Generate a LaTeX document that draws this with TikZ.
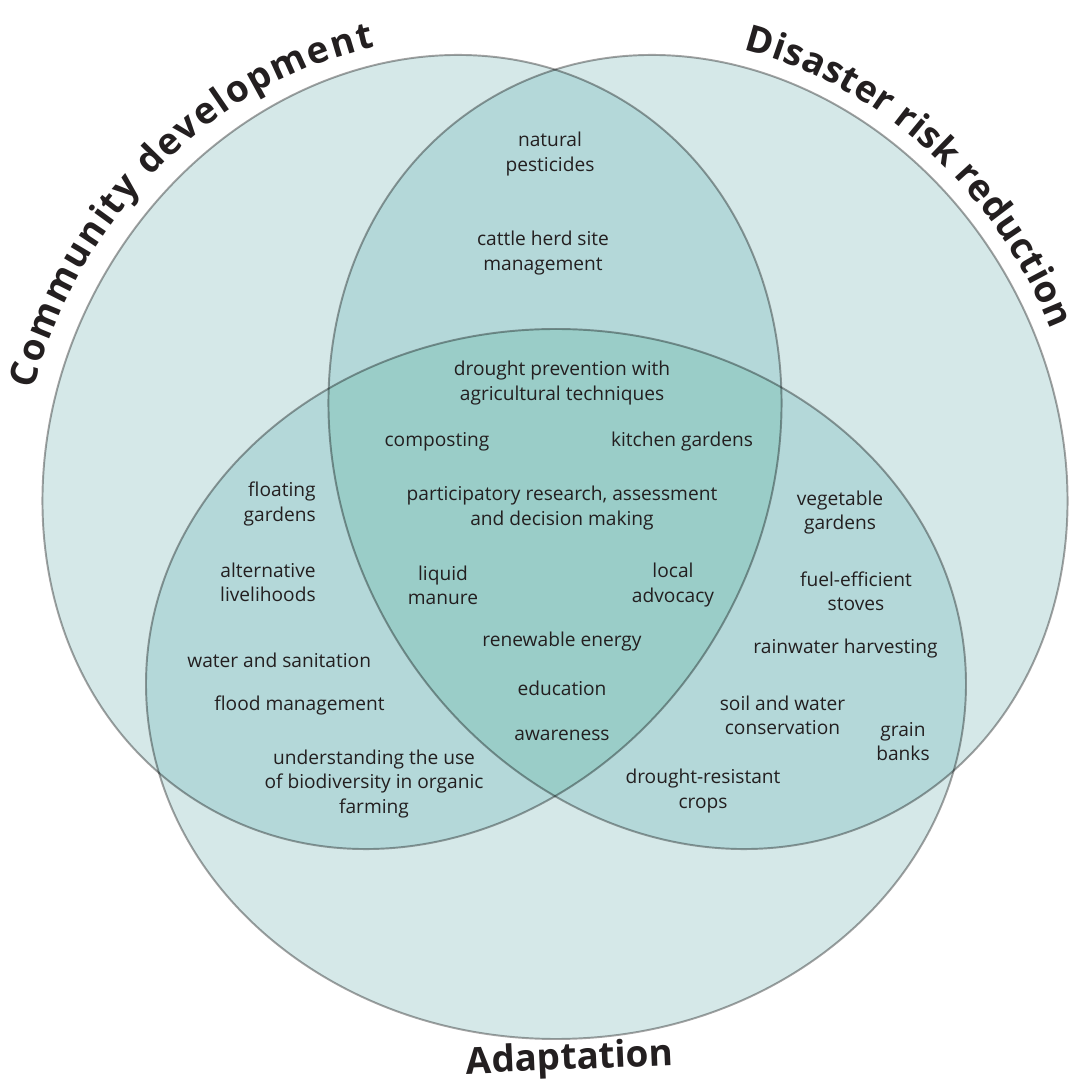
\documentclass[tikz,border=0pt]{standalone}
\usepackage{fontspec}
\setmainfont{Open Sans}
\usetikzlibrary{decorations.text}
\definecolor{lightfill}{RGB}{213,232,232}
\definecolor{midfill}{RGB}{180,216,217}
\definecolor{darkfill}{RGB}{154,205,200}
\definecolor{inktext}{RGB}{35,31,32}
\newcommand\titlefmt{\bfseries\fontsize{21}{25}\selectfont\color{inktext}}
\tikzset{
  item/.style={font=\fontsize{10.9}{13.7}\selectfont, text=inktext, align=center, inner sep=0pt},
  outline/.style={draw=black, draw opacity=0.36, line width=1.1pt},
  title/.style={font=\titlefmt, text=inktext},
  rotA/.style={rotate around={60:(412,638)}},
  rotB/.style={rotate around={120:(698,638)}},
  rotAt/.style={rotate around={60:(406,637)}},
}
\begin{document}
\begin{tikzpicture}[x=0.02cm,y=0.02cm]
\useasboundingbox (0,0) rectangle (1075,1090);
% base fills
\fill[lightfill, rotA] (412,638) ellipse [x radius=410, y radius=355];
\fill[lightfill, rotB] (698,638) ellipse [x radius=410, y radius=355];
\fill[lightfill] (556,406) ellipse [x radius=410, y radius=355];
% pairwise overlaps
\begin{scope}
  \clip[rotA] (412,638) ellipse [x radius=410, y radius=355];
  \fill[midfill, rotB] (698,638) ellipse [x radius=410, y radius=355];
  \fill[midfill] (556,406) ellipse [x radius=410, y radius=355];
\end{scope}
\begin{scope}
  \clip[rotB] (698,638) ellipse [x radius=410, y radius=355];
  \fill[midfill] (556,406) ellipse [x radius=410, y radius=355];
\end{scope}
% triple overlap
\begin{scope}
  \clip[rotA] (412,638) ellipse [x radius=410, y radius=355];
  \clip[rotB] (698,638) ellipse [x radius=410, y radius=355];
  \fill[darkfill] (556,406) ellipse [x radius=410, y radius=355];
\end{scope}
% outlines
\draw[outline, rotA] (412,638) ellipse [x radius=410, y radius=355];
\draw[outline, rotB] (698,638) ellipse [x radius=410, y radius=355];
\draw[outline] (556,406) ellipse [x radius=410, y radius=355];

% curved titles
\path[rotAt, decorate, decoration={text along path, text align=center,
  text={|\titlefmt\kern1.1pt|Community development}}]
  (406,637) ++(124:427 and 372)
  arc[start angle=124, end angle=21, x radius=427, y radius=372];
\path[rotB, decorate, decoration={text along path, text align=center,
  text={|\titlefmt\kern0.3pt|Disaster risk reduction}}]
  (698,638) ++(-18:427 and 372)
  arc[start angle=-18, end angle=-120, x radius=427, y radius=372];
\node[title, rotate=2.5] (adapt) at (570,30) {Adaptation};

% items
\node[item] (n1) at (550,936) {natural\\pesticides};
\node[item] (n2) at (543,837) {cattle herd site\\management};
\node[item] (n3) at (562,707) {drought prevention with\\agricultural techniques};
\node[item] (n4) at (437,648) {composting};
\node[item] (n5) at (682,648) {kitchen gardens};
\node[item] (n6) at (562,582) {participatory research, assessment\\and decision making};
\node[item] (n7) at (443,505) {liquid\\manure};
\node[item] (n8) at (673,505) {local\\advocacy};
\node[item] (n9) at (562,448) {renewable energy};
\node[item] (n10) at (562,402) {education};
\node[item] (n11) at (562,355) {awareness};
\node[item, align=right, anchor=east] (n12) at (316,586) {floating\\gardens};
\node[item, align=right, anchor=east] (n13) at (316,508) {alternative\\livelihoods};
\node[item, anchor=west] (n14) at (187,430) {water and sanitation};
\node[item, anchor=west] (n15) at (214,385) {flood management};
\node[item] (n16) at (374,306) {understanding the use\\of biodiversity in organic\\farming};
\node[item] (n17) at (840,577.5) {vegetable\\gardens};
\node[item] (n18) at (856,498.5) {fuel-efficient\\stoves};
\node[item] (n19) at (845.5,441) {rainwater harvesting};
\node[item] (n20) at (782.5,374.5) {soil and water\\conservation};
\node[item] (n21) at (903,348.5) {grain\\banks};
\node[item] (n22) at (703,299) {drought-resistant\\crops};
\end{tikzpicture}
\end{document}
